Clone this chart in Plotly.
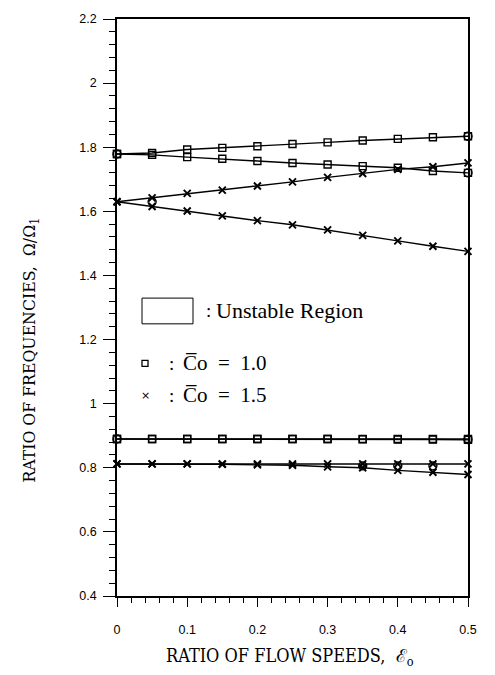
import plotly.graph_objects as go

# ---------------- data ----------------
eps = [0.0, 0.05, 0.10, 0.15, 0.20, 0.25, 0.30, 0.35, 0.40, 0.45, 0.50]

# Co = 1.0 (squares)
co10_high_up = [1.779, 1.782, 1.793, 1.798, 1.803, 1.810, 1.815, 1.821, 1.826, 1.831, 1.834]
co10_high_dn = [1.779, 1.776, 1.769, 1.764, 1.757, 1.751, 1.746, 1.741, 1.736, 1.726, 1.720]
co10_low_a = [0.890, 0.890, 0.890, 0.890, 0.890, 0.890, 0.890, 0.890, 0.890, 0.890, 0.890]
co10_low_b = [0.890, 0.890, 0.890, 0.890, 0.890, 0.890, 0.890, 0.889, 0.888, 0.888, 0.887]

# Co = 1.5 (crosses)
co15_high_up = [1.630, 1.642, 1.656, 1.666, 1.679, 1.692, 1.706, 1.718, 1.731, 1.739, 1.751]
co15_high_dn = [1.630, 1.615, 1.601, 1.586, 1.571, 1.558, 1.542, 1.525, 1.508, 1.491, 1.475]
co15_low_a = [0.812, 0.812, 0.812, 0.812, 0.812, 0.812, 0.812, 0.812, 0.812, 0.812, 0.812]
co15_low_b = [0.812, 0.812, 0.812, 0.811, 0.809, 0.808, 0.803, 0.800, 0.792, 0.786, 0.779]

# extra open-circle points seen in the figure
circ_x = [0.0, 0.0, 0.05, 0.50, 0.50, 0.50, 0.35, 0.40, 0.45]
circ_y = [1.779, 0.890, 1.630, 1.834, 1.720, 0.888, 0.806, 0.806, 0.806]

y_tickvals = [0.4, 0.6, 0.8, 1.0, 1.2, 1.4, 1.6, 1.8, 2.0, 2.2]
y_ticktext = ["0.4", "0.6", "0.8", "1", "1.2", "1.4", "1.6", "1.8", "2", "2.2"]
x_tickvals = [0.0, 0.1, 0.2, 0.3, 0.4, 0.5]
x_ticktext = ["0", "0.1", "0.2", "0.3", "0.4", "0.5"]

legend_unstable = "Unstable Region"
legend_c10 = "C\u0305o  =  1.0"
legend_c15 = "C\u0305o  =  1.5"
x_title = "RATIO OF FLOW SPEEDS,  \u2130<sub>o</sub>"
y_title = "RATIO OF FREQUENCIES,  \u03a9/\u03a9<sub>1</sub>"

# ---------------- figure ----------------
W, H = 495, 675
L, R, T, B = 117, 27, 13, 79
pw, ph = W - L - R, H - T - B


def px(xp):
    return (xp - L) / pw


def py(yp):
    return (H - B - yp) / ph


fig = go.Figure()

sq = dict(symbol="square-open", size=7, color="black", line=dict(width=1.4, color="black"))
xx = dict(symbol="x-thin", size=7, color="black", line=dict(width=1.9, color="black"))
ln = dict(color="black", width=1.4)

for ys in (co10_high_up, co10_high_dn, co10_low_a, co10_low_b):
    fig.add_trace(go.Scatter(x=eps, y=ys, mode="lines+markers", marker=sq, line=ln,
                             cliponaxis=False, showlegend=False))
for ys in (co15_high_up, co15_high_dn, co15_low_a, co15_low_b):
    fig.add_trace(go.Scatter(x=eps, y=ys, mode="lines+markers", marker=xx, line=ln,
                             cliponaxis=False, showlegend=False))
fig.add_trace(go.Scatter(x=circ_x, y=circ_y, mode="markers", cliponaxis=False, showlegend=False,
                         marker=dict(symbol="circle-open", size=8, color="black",
                                     line=dict(width=1.4, color="black"))))

serif = "DejaVu Serif Condensed, Liberation Serif, serif"
times = "Liberation Serif, Times New Roman, serif"

# legend block (drawn as annotations / shapes)
fig.add_shape(type="rect", xref="paper", yref="paper",
              x0=px(142), x1=px(193), y0=py(321), y1=py(295),
              line=dict(color="black", width=1))
fig.add_annotation(xref="paper", yref="paper", x=px(204), y=py(308), text=":",
                   showarrow=False, xanchor="left", yanchor="middle",
                   font=dict(family=times, size=19, color="black"))
fig.add_annotation(xref="paper", yref="paper", x=px(214), y=py(308), text=legend_unstable,
                   showarrow=False, xanchor="left", yanchor="middle",
                   font=dict(family=times, size=22, color="black"))
fig.add_shape(type="rect", xref="paper", yref="paper",
              x0=px(142), x1=px(148), y0=py(364), y1=py(358),
              line=dict(color="black", width=1.3))
fig.add_annotation(xref="paper", yref="paper", x=px(145), y=py(393), text="\u00d7",
                   showarrow=False, xanchor="center", yanchor="middle",
                   font=dict(family="DejaVu Sans", size=11, color="black"))
for yy, txt in ((361, legend_c10), (393, legend_c15)):
    fig.add_annotation(xref="paper", yref="paper", x=px(167), y=py(yy), text=":",
                       showarrow=False, xanchor="left", yanchor="middle",
                       font=dict(family=times, size=19, color="black"))
    fig.add_annotation(xref="paper", yref="paper", x=px(181), y=py(yy), text=txt,
                       showarrow=False, xanchor="left", yanchor="middle",
                       font=dict(family=times, size=21, color="black"))

# axis titles
fig.add_annotation(xref="paper", yref="paper", x=px(290), y=py(658), text=x_title,
                   showarrow=False, xanchor="center", yanchor="middle",
                   font=dict(family=serif, size=18, color="black"))
fig.add_annotation(xref="paper", yref="paper", x=px(31), y=py(348), text=y_title,
                   showarrow=False, xanchor="center", yanchor="middle", textangle=-90,
                   font=dict(family=serif, size=17.5, color="black"))

tickfont = dict(family="Liberation Sans, Arial, sans-serif", size=12.5, color="black")

fig.update_xaxes(range=[0, 0.5], tickvals=x_tickvals, ticktext=x_ticktext,
                 showgrid=False, zeroline=False, showline=True, linecolor="black", linewidth=1.5,
                 mirror=True, ticks="outside", ticklen=9, tickwidth=1.3, tickcolor="black",
                 ticklabelstandoff=12, tickfont=tickfont,
                 minor=dict(dtick=0.02, ticks="outside", ticklen=5, tickwidth=1, tickcolor="black"))
fig.update_yaxes(range=[0.4, 2.2], tickvals=y_tickvals, ticktext=y_ticktext,
                 showgrid=False, zeroline=False, showline=True, linecolor="black", linewidth=1.5,
                 mirror=True, ticks="outside", ticklen=12, tickwidth=1.3, tickcolor="black",
                 ticklabelstandoff=4, tickfont=tickfont,
                 minor=dict(dtick=0.04, ticks="outside", ticklen=6, tickwidth=1, tickcolor="black"))

fig.update_layout(width=W, height=H, margin=dict(l=L, r=R, t=T, b=B),
                  paper_bgcolor="white", plot_bgcolor="white", showlegend=False)

fig.write_html("out.html", config={"displayModeBar": False},
               post_script="document.body.style.margin='0';document.body.style.overflow='hidden';")
